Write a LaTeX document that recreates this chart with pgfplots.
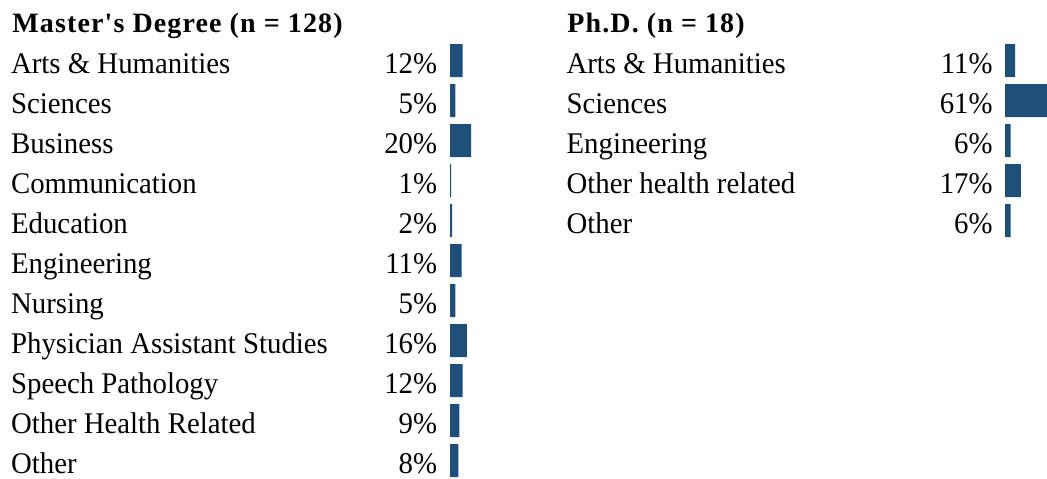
\documentclass[border=0pt]{standalone}
\usepackage{fontspec}
\setmainfont{Liberation Serif}[Ligatures=TeXOff]
\newfontfamily\labelfont{Liberation Serif}[Ligatures=TeXOff, FakeStretch=0.96]
\newfontfamily\titlefont{Liberation Serif}[Ligatures=TeXOff, LetterSpace=4]
\usepackage{pgfplots}
\pgfplotsset{compat=1.18}
\definecolor{barblue}{RGB}{31,78,121}

% one panel: rows 40px apart, labels + percent in a fixed-width box
\pgfplotsset{
  panel/.style={
    anchor=north west,
    y dir=reverse,
    y=20pt, xmin=0, ymin=-0.5,
    hide x axis,
    axis y line*=left,
    y axis line style={draw=none},
    major tick length=0pt,
    ytick={0,...,10},
    yticklabel style={anchor=base east, inner sep=0pt, yshift=-6.5pt,
      font=\labelfont\fontsize{15}{18}\selectfont},
    clip=true,
  },
}
\newcommand{\row}[2]{\hbox to 213pt{#1\hfill #2\%}}

\begin{document}
\begin{tikzpicture}
\useasboundingbox (0,0) rectangle (523.5pt,239pt);

\node[anchor=base west, inner sep=0pt, font=\titlefont\bfseries\fontsize{14}{17}\selectfont] at (6pt,222.5pt) {Master's Degree (n = 128)};
\node[anchor=base west, inner sep=0pt, font=\titlefont\bfseries\fontsize{14}{17}\selectfont] at (283.5pt,222.5pt) {Ph.D. (n = 18)};

\begin{axis}[panel, at={(225pt,218.75pt)}, x=0.525pt, xmax=22, ymax=10.5,
  yticklabel style={xshift=-6.25pt},
  yticklabels={\row{Arts \& Humanities}{12},\row{Sciences}{5},\row{Business}{20},
    \row{Communication}{1},\row{Education}{2},\row{Engineering}{11},\row{Nursing}{5},
    \row{Physician Assistant Studies}{16},\row{Speech Pathology}{12},
    \row{Other Health Related}{9},\row{Other}{8}}]
\addplot[xbar, fill=barblue, draw=none, bar width=16.5pt, bar shift=0pt]
  coordinates {(12,0) (5,1) (20,2) (1,3) (2,4) (11,5) (5,6) (16,7) (12,8) (9,9) (8,10)};
\end{axis}

\begin{axis}[panel, at={(502.5pt,218.75pt)}, x=0.465pt, xmax=45.2, ymax=4.5,
  ytick={0,...,4},
  yticklabel style={xshift=-6pt},
  yticklabels={\row{Arts \& Humanities}{11},\row{Sciences}{61},\row{Engineering}{6},
    \row{Other health related}{17},\row{Other}{6}}]
\addplot[xbar, fill=barblue, draw=none, bar width=16.5pt, bar shift=0pt]
  coordinates {(11,0) (61,1) (6,2) (17,3) (6,4)};
\end{axis}
\end{tikzpicture}
\end{document}
